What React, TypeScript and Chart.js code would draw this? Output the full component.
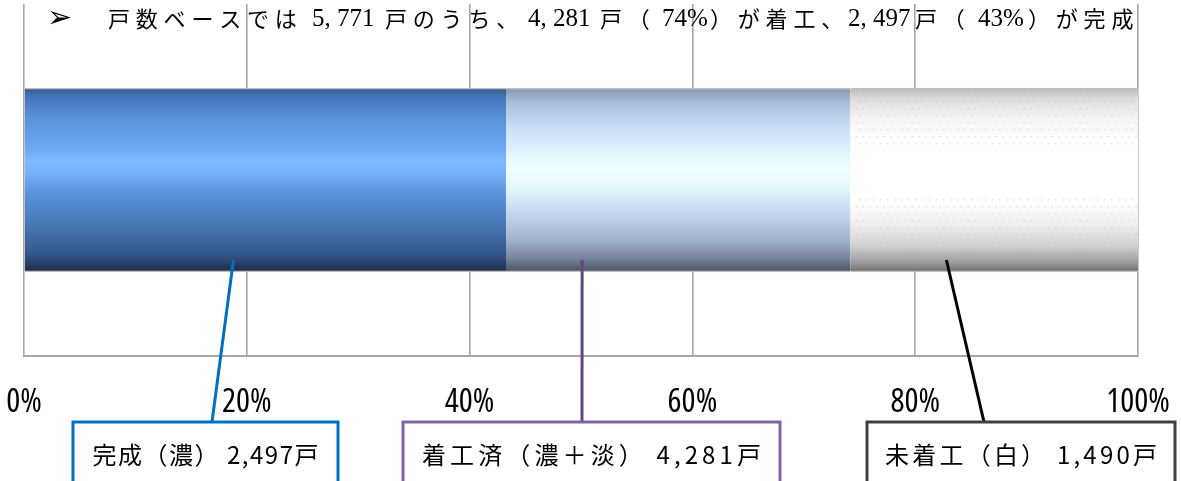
import React, { useEffect, useRef } from 'react';
import { Chart, registerables } from 'chart.js';

Chart.register(...registerables);

// ---------- data ----------
const CATEGORIES = ['戸数'];
const SERIES_LABELS = ['完成（濃）', '着工済・未完成（淡）', '未着工（白）'];
const COMPLETED_UNITS = [2497];
const STARTED_UNITS = [4281];
const NOT_STARTED_UNITS = [1490];
const TOTAL_UNITS = [5771];
const X_TICKS = [0, 20, 40, 60, 80, 100];
const TITLE_PARTS = ['戸数ベースでは', '5, 771', '戸のうち、', '4, 281', '戸（', '74%', '）が着工、', '2, 497', '戸（', '43%', '）が完成'];
const BOX_LABELS = ['完成（濃） 2,497戸', '着工済（濃＋淡） 4,281戸', '未着工（白） 1,490戸'];
const CALLOUT_ANCHOR_PCT = [18.8, 50.1, 82.8];

// ---------- layout / styles ----------
const TITLE_STARTS = [108, 312, 385, 528, 600, 662, 710, 848, 915, 978, 1028];
const CJK_PITCH = 27.8;
const BAR_THICKNESS = 184;
const STOPS_DARK: [number, string][] = [
  [0, '#34568a'], [0.05, '#4677bb'], [0.18, '#5a95db'], [0.33, '#6eaaf2'], [0.4, '#7dbaff'],
  [0.47, '#74b0f8'], [0.58, '#5991d8'], [0.75, '#4776b6'], [0.9, '#34588c'], [1, '#1c2b48'],
];
const STOPS_LIGHT: [number, string][] = [
  [0, '#8798b0'], [0.08, '#aabfdb'], [0.22, '#cbdff8'], [0.38, '#e6f8ff'], [0.45, '#f0ffff'],
  [0.55, '#e2f4fd'], [0.68, '#c4d8f0'], [0.82, '#a3b4cb'], [0.93, '#76829a'], [1, '#485060'],
];
const STOPS_WHITE: [number, string][] = [
  [0, '#b8b8b8'], [0.06, '#dedede'], [0.16, '#f3f3f3'], [0.28, '#ffffff'], [0.62, '#ffffff'],
  [0.74, '#efefef'], [0.86, '#d0d0d0'], [0.95, '#9a9a9a'], [1, '#6a6a6a'],
];
const BOXES = [
  { x: 73, y: 422, w: 265, h: 90, border: '#0070c0', line: '#0070c0', lineEndX: 212, textW: 226 },
  { x: 403, y: 422, w: 377, h: 90, border: '#8064a2', line: '#5f497a', lineEndX: 582, textW: 339 },
  { x: 867, y: 422, w: 308, h: 90, border: '#404040', line: '#000000', lineEndX: 984, textW: 272 },
];

function makeGradient(chart: any, stops: [number, string][]) {
  const yScale = chart.scales && chart.scales.y;
  if (!chart.chartArea || !yScale) return stops[4][1];
  const c = yScale.getPixelForValue(0);
  const g = chart.ctx.createLinearGradient(0, c - BAR_THICKNESS / 2, 0, c + BAR_THICKNESS / 2);
  stops.forEach(([o, col]) => g.addColorStop(o, col));
  return g;
}

function drawFitted(ctx: CanvasRenderingContext2D, text: string, x: number, y: number, targetW: number) {
  (ctx as any).letterSpacing = '0px';
  const w = ctx.measureText(text).width;
  const n = [...text].length;
  const ls = n > 1 ? (targetW - w) / (n - 1) : 0;
  (ctx as any).letterSpacing = `${ls}px`;
  const total = w + ls * (n - 1);
  ctx.textAlign = 'left';
  ctx.fillText(text, x - total / 2, y);
  (ctx as any).letterSpacing = '0px';
}

const isLatin = (s: string) => /^[0-9,% ]+$/.test(s);

const overlayPlugin = {
  id: 'overlay',
  afterDatasetsDraw(chart: any) {
    const meta = chart.getDatasetMeta(2);
    const el = meta && meta.data[0];
    if (!el) return;
    const ctx = chart.ctx as CanvasRenderingContext2D;
    const left = Math.min(el.x, el.base);
    const right = Math.max(el.x, el.base);
    const top = el.y - el.height / 2;
    const h = el.height;
    ctx.save();
    ctx.fillStyle = 'rgba(160,175,215,0.35)';
    let row = 0;
    for (let yy = top + 6; yy < top + h - 3; yy += 7, row++) {
      const t = (yy - top) / h;
      if (t > 0.3 && t < 0.6) continue;
      const off = row % 2 ? 3.5 : 0;
      for (let xx = left + 5 + off; xx < right - 2; xx += 7) {
        ctx.fillRect(xx, yy, 1.5, 1.5);
      }
    }
    ctx.restore();
  },
  afterDraw(chart: any) {
    const ctx = chart.ctx as CanvasRenderingContext2D;
    const xScale = chart.scales.x;
    const yScale = chart.scales.y;
    const barBottom = yScale.getPixelForValue(0) + BAR_THICKNESS / 2;
    ctx.save();
    ctx.fillStyle = '#000';
    ctx.textBaseline = 'middle';
    ctx.textAlign = 'left';
    ctx.font = '30px "DejaVu Sans"';
    ctx.fillText('➢', 47, 19);
    TITLE_PARTS.forEach((t, i) => {
      if (isLatin(t)) {
        ctx.font = '25px "Liberation Serif"';
        (ctx as any).letterSpacing = '0px';
      } else {
        ctx.font = '22px "Noto Sans CJK JP"';
        (ctx as any).letterSpacing = `${CJK_PITCH - 22}px`;
      }
      ctx.fillText(t, TITLE_STARTS[i], 19);
    });
    (ctx as any).letterSpacing = '0px';

    BOXES.forEach((b, i) => {
      ctx.beginPath();
      ctx.strokeStyle = b.line;
      ctx.lineWidth = 3;
      ctx.moveTo(xScale.getPixelForValue(CALLOUT_ANCHOR_PCT[i]), barBottom - 12);
      ctx.lineTo(b.lineEndX, b.y);
      ctx.stroke();
    });
    BOXES.forEach((b, i) => {
      ctx.fillStyle = '#ffffff';
      ctx.fillRect(b.x, b.y, b.w, b.h);
      ctx.strokeStyle = b.border;
      ctx.lineWidth = 3;
      ctx.strokeRect(b.x, b.y, b.w, b.h);
      ctx.fillStyle = '#000';
      ctx.font = '24px "Noto Sans CJK JP"';
      ctx.textBaseline = 'middle';
      drawFitted(ctx, BOX_LABELS[i], b.x + b.w / 2, 455, b.textW);
    });
    ctx.restore();
  },
};

export default function App() {
  const canvasRef = useRef<HTMLCanvasElement | null>(null);

  useEffect(() => {
    if (!canvasRef.current) return;
    const total = TOTAL_UNITS[0];
    const pct = (v: number) => (v / total) * 100;
    const completedPct = COMPLETED_UNITS.map(pct);
    const startedOnlyPct = STARTED_UNITS.map((v, i) => pct(v - COMPLETED_UNITS[i]));
    const notStartedPct = NOT_STARTED_UNITS.map(pct);

    const common = {
      borderWidth: { top: 1.5, bottom: 1.5, left: 0, right: 0 },
      borderColor: '#bdbdbd',
      borderSkipped: false,
      barThickness: BAR_THICKNESS,
    };

    const chart = new Chart(canvasRef.current, {
      type: 'bar',
      data: {
        labels: CATEGORIES,
        datasets: [
          { label: SERIES_LABELS[0], data: completedPct, backgroundColor: (c: any) => makeGradient(c.chart, STOPS_DARK), ...common },
          { label: SERIES_LABELS[1], data: startedOnlyPct, backgroundColor: (c: any) => makeGradient(c.chart, STOPS_LIGHT), ...common },
          { label: SERIES_LABELS[2], data: notStartedPct, backgroundColor: (c: any) => makeGradient(c.chart, STOPS_WHITE), ...common },
        ],
      },
      options: {
        indexAxis: 'y',
        animation: false,
        responsive: false,
        devicePixelRatio: 1,
        layout: { padding: { left: 24, right: 43, top: 4, bottom: 0 } },
        plugins: {
          legend: { display: false },
          tooltip: { enabled: false },
          title: { display: false },
        },
        scales: {
          x: {
            stacked: true,
            min: 0,
            max: 100,
            afterBuildTicks: (scale: any) => {
              scale.ticks = X_TICKS.map((v) => ({ value: v }));
            },
            afterFit: (scale: any) => {
              scale.height = 125;
              scale.paddingLeft = 0;
              scale.paddingRight = 0;
            },
            grid: { color: '#a6a6a6', lineWidth: 1.6, drawTicks: false },
            border: { display: true, color: '#a6a6a6', width: 2 },
            ticks: {
              padding: 27,
              color: '#000',
              maxRotation: 0,
              autoSkip: false,
              font: { family: '"Open Sans", "Roboto Condensed", sans-serif', size: 33, weight: 'condensed' as any },
              callback: (v: any) => `${v}%`,
            },
          },
          y: { stacked: true, display: false },
        },
      },
      plugins: [overlayPlugin],
    } as any);
    return () => chart.destroy();
  }, []);

  return (
    <div style={{ position: 'fixed', left: 0, top: 0, width: 1181, height: 481, background: '#fff' }}>
      <canvas ref={canvasRef} width={1181} height={481} />
    </div>
  );
}
